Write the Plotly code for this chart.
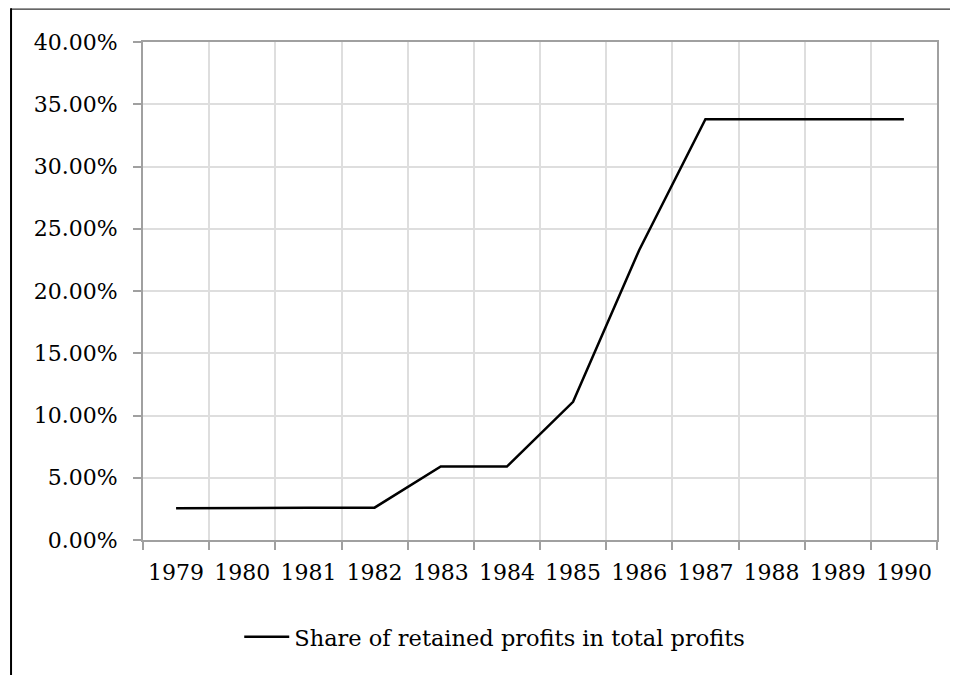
import plotly.graph_objects as go

years = ['1979', '1980', '1981', '1982', '1983', '1984',
         '1985', '1986', '1987', '1988', '1989', '1990']
retained_share = [0.0255, 0.026, 0.026, 0.026, 0.059, 0.059,
                  0.111, 0.233, 0.338, 0.338, 0.338, 0.338]
series_name = 'Share of retained profits in total profits'

font_family = 'DejaVu Serif'
axis_grey = '#a0a0a0'
grid_grey = '#dedede'

fig = go.Figure()
fig.add_trace(go.Scatter(x=years, y=retained_share, mode='lines', name=series_name,
                         line=dict(color='black', width=2.5)))

# outer chart frame (only top and left edges visible in the crop)
fig.add_shape(type='line', xref='paper', yref='paper', x0=-0.1662, x1=1.05, y0=1.066, y1=1.066,
              line=dict(color='#333333', width=1.2))
fig.add_shape(type='line', xref='paper', yref='paper', x0=-0.1662, x1=-0.1662, y0=1.068, y1=-0.3,
              line=dict(color='black', width=2))

# the page adds an 8px body margin, so the margins are shifted by that amount
fig.update_layout(
    width=958, height=675,
    margin=dict(l=135, r=29, t=34, b=143),
    paper_bgcolor='white', plot_bgcolor='white',
    font=dict(family=font_family, size=22, color='black'),
    showlegend=True,
    legend=dict(orientation='h', x=0.443, xanchor='center', y=-0.195, yanchor='middle',
                font=dict(size=22.5), itemwidth=45),
)
fig.update_xaxes(type='category', tickson='boundaries', showgrid=True, gridcolor=grid_grey, gridwidth=1.5,
                 showline=True, linecolor=axis_grey, linewidth=2, mirror=True,
                 ticks='outside', ticklen=8, tickcolor=axis_grey, tickwidth=2,
                 ticklabelstandoff=12, range=[-0.5, 11.5])
fig.update_yaxes(range=[0, 0.4], dtick=0.05, tickformat='.2%', showgrid=True, gridcolor=grid_grey, gridwidth=1.5,
                 showline=True, linecolor=axis_grey, linewidth=2, mirror=True,
                 ticks='outside', ticklen=8, tickcolor=axis_grey, tickwidth=2,
                 ticklabelstandoff=11, zeroline=False)

fig.write_html('out.html')
